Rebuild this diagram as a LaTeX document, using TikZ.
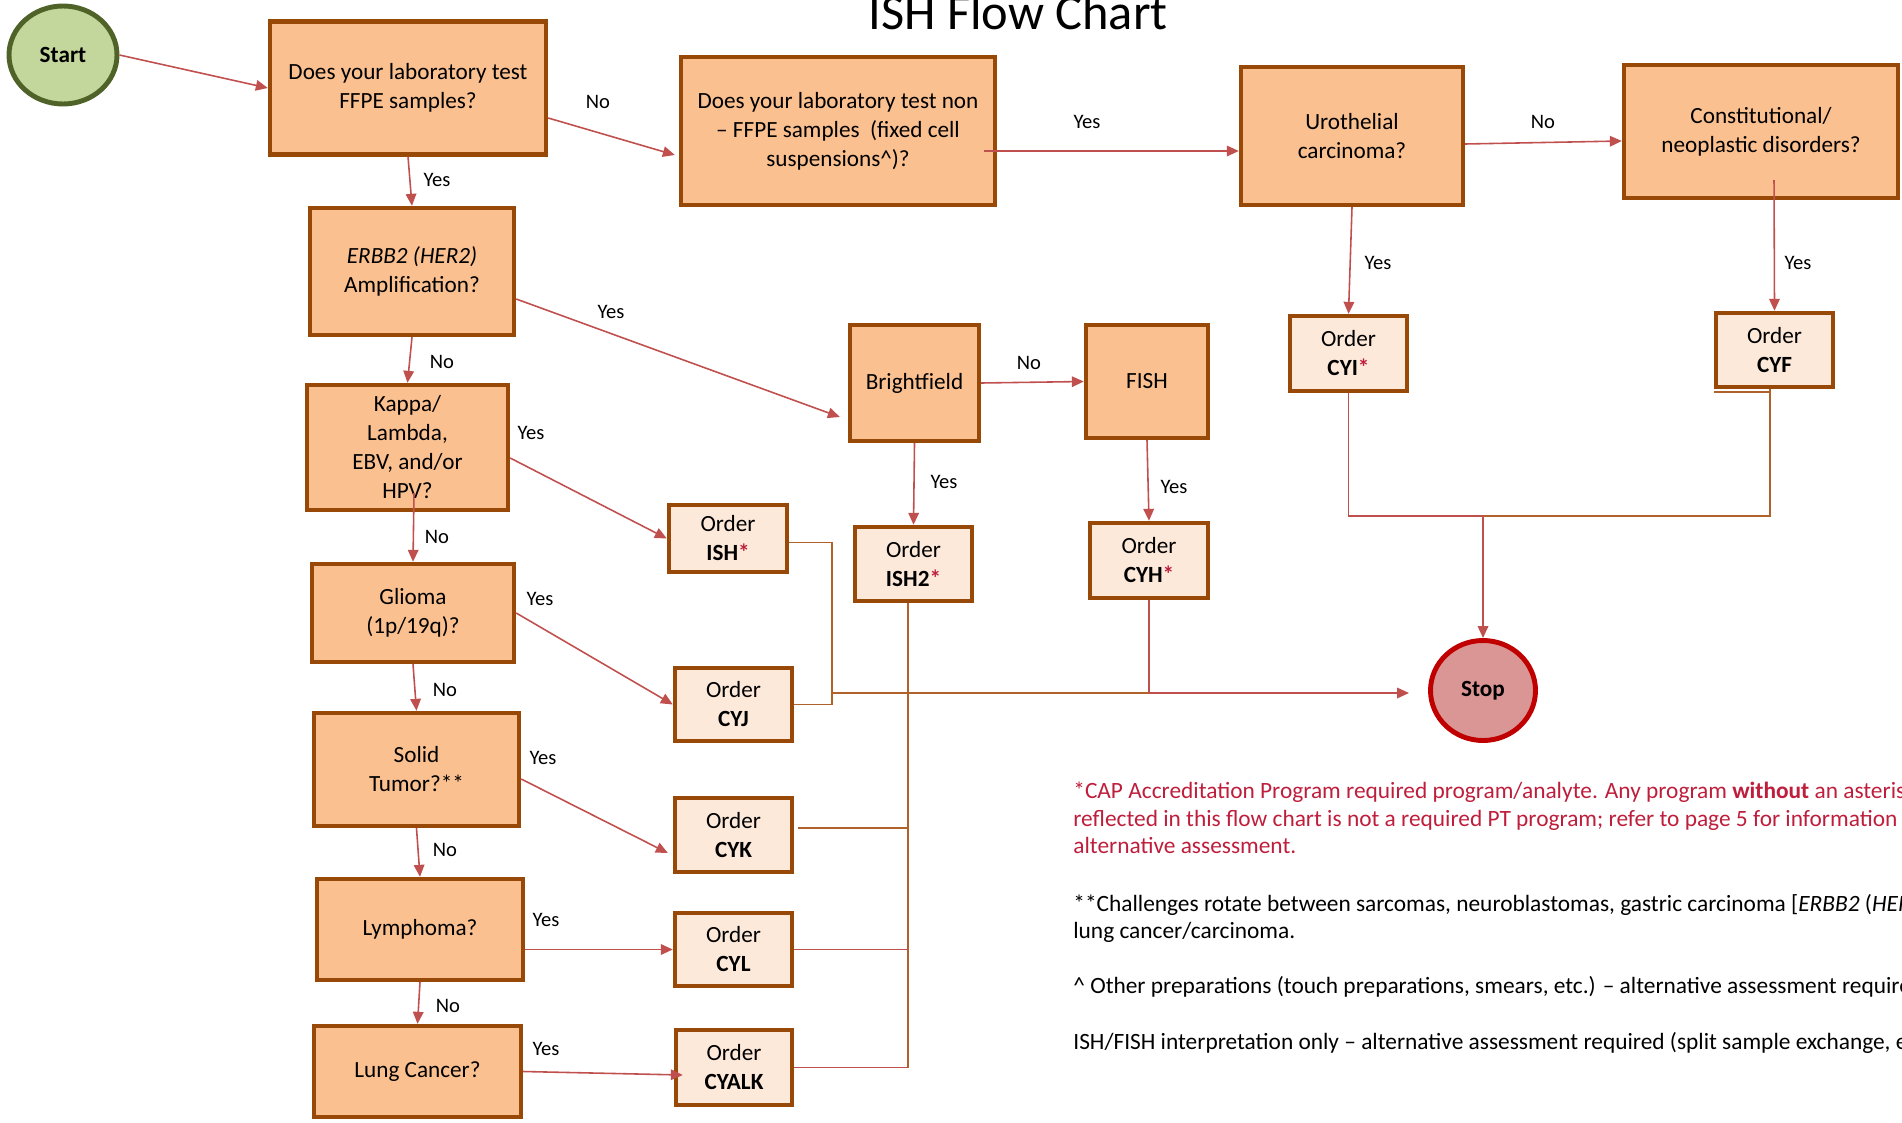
\documentclass[tikz,border=0pt]{standalone}
\usepackage{fontspec}
\setmainfont{Carlito}
\usetikzlibrary{arrows.meta,calc,shapes.geometric}

\definecolor{qfill}{HTML}{FAC090}
\definecolor{ofill}{HTML}{FDE9D9}
\definecolor{boxline}{HTML}{984807}
\definecolor{connred}{HTML}{C0504D}
\definecolor{connbrown}{HTML}{B0622A}
\definecolor{startfill}{HTML}{C3D69B}
\definecolor{startline}{HTML}{4F6228}
\definecolor{stopfill}{HTML}{D99694}
\definecolor{stopline}{HTML}{C00000}
\definecolor{ishred}{HTML}{BE1E3C}

\newcommand{\reqmark}{\textcolor{ishred}{\textbf{*}}}

\begin{document}
\begin{tikzpicture}[x=0.02cm,y=-0.02cm,
	>={Triangle[length=6.8pt,width=6pt]},
	sz/.style 2 args={minimum width=#1*0.02cm,minimum height=#2*0.02cm},
	question/.style={draw=boxline,fill=qfill,line width=2.5pt,align=center,inner sep=2pt,
		font=\fontsize{13.2pt}{16.5pt}\selectfont},
	order/.style={question,fill=ofill},
	terminal/.style={ellipse,line width=2.8pt,inner sep=0pt,
		font=\fontsize{13.2pt}{16.5pt}\selectfont\bfseries},
	conn/.style={connred,line width=0.9pt},
	brownline/.style={connbrown,line width=0.9pt},
	lbl/.style={font=\fontsize{11.7pt}{14pt}\selectfont,inner sep=0pt},
	note/.style={anchor=base west,inner sep=0pt,font=\fontsize{13.3pt}{16pt}\selectfont}]
	
	\useasboundingbox (0,0) rectangle (1902,1122);
	\clip (0,0) rectangle (1902,1122);
	
	% ======================================================
	% Title and terminals
	% ======================================================
	\node[anchor=base,inner sep=0pt,font=\fontsize{28.7pt}{34pt}\selectfont] (title) at (1018,30) {ISH Flow Chart};
	
	\node[terminal,fill=startfill,draw=startline,sz={108}{98}] (start) at (63,55) {Start};
	\node[terminal,fill=stopfill,draw=stopline,sz={105}{100}] (stop) at (1483,690.5) {Stop};
	
	% ======================================================
	% Questions
	% ======================================================
	\node[question,sz={276}{133}] (ffpe) at (408,88) {Does your laboratory test\\FFPE samples?};
	\node[question,sz={314}{148}] (nonffpe) at (838,131) {Does your laboratory test non\\-- FFPE samples~ (fixed cell\\suspensions\textasciicircum)?};
	\node[question,sz={222}{138}] (uro) at (1352,136) {Urothelial\\carcinoma?};
	\node[question,sz={274}{133}] (const) at (1761,131.5) {Constitutional/\\neoplastic disorders?};
	\node[question,sz={204}{127}] (erbb) at (412,271.5) {\textit{ERBB2 (HER2)}\\Amplification?};
	\node[question,sz={201}{125}] (kappa) at (407.5,447.5) {Kappa/\\Lambda,\\EBV, and/or\\HPV?};
	\node[question,sz={202}{98}] (glioma) at (413,613) {Glioma\\(1p/19q)?};
	\node[question,sz={205}{113}] (solid) at (416.5,769.5) {Solid\\Tumor?**};
	\node[question,sz={206}{101}] (lymph) at (420,929.5) {Lymphoma?};
	\node[question,sz={207}{91}] (lung) at (417.5,1071.5) {Lung Cancer?};
	\node[question,sz={129}{116}] (bright) at (914.5,383) {Brightfield};
	\node[question,sz={122}{113}] (fish) at (1147,381.5) {FISH};
	
	% ======================================================
	% Orders
	% ======================================================
	\node[order,sz={117}{75}] (cyi) at (1348.5,353.5) {Order\\\textbf{CYI}\reqmark};
	\node[order,sz={117}{74}] (cyf) at (1774.5,350) {Order\\\textbf{CYF}};
	\node[order,sz={118}{67}] (ish) at (728,538.5) {Order\\\textbf{ISH}\reqmark};
	\node[order,sz={117}{73}] (cyj) at (733.5,704.5) {Order\\\textbf{CYJ}};
	\node[order,sz={117}{74}] (cyk) at (733.5,835) {Order\\\textbf{CYK}};
	\node[order,sz={117}{73}] (cyl) at (733.5,949.5) {Order\\\textbf{CYL}};
	\node[order,sz={116}{75}] (cyalk) at (734,1067.5) {Order\\\textbf{CYALK}};
	\node[order,sz={117}{74}] (ish2) at (913.5,564) {Order\\\textbf{ISH2}\reqmark};
	\node[order,sz={118}{75}] (cyh) at (1149,560.5) {Order\\\textbf{CYH}\reqmark};
	
	% ======================================================
	% Yes / No connectors
	% ======================================================
	\draw[conn,->] (start.east) -- (ffpe.west);
	\draw[conn,->] ($(ffpe.east)+(0,30)$) -- ($(nonffpe.west)+(-4,24)$);
	\draw[conn,->] (ffpe.south) -- (erbb.north);
	\draw[conn,->] ($(nonffpe.east)+(-13,20)$) -- ($(uro.west)+(0,15)$);
	\draw[conn,->] ($(uro.east)+(0,8)$) -- ($(const.west)+(0,9.5)$);
	\draw[conn,->] (uro.south) -- (cyi.north);
	\draw[conn,->] ($(const.south)+(13,-20)$) -- (cyf.north);
	\draw[conn,->] ($(erbb.east)+(0,27.5)$) -- ($(bright.west)+(-8,34)$);
	\draw[conn,->] (erbb.south) -- (kappa.north);
	\draw[conn,->] (bright.east) -- (fish.west);
	\draw[conn,->] ($(kappa.east)+(0,10.5)$) -- (ish.west);
	\draw[conn,->] (bright.south) -- (ish2.north);
	\draw[conn,->] (fish.south) -- (cyh.north);
	\draw[conn,->] ($(kappa.south)+(6.5,-19)$) -- (glioma.north);
	\draw[conn,->] (glioma.east) -- (cyj.west);
	\draw[conn,->] (glioma.south) -- (solid.north);
	\draw[conn,->] ($(solid.east)+(0,9.5)$) -- ($(cyk.west)+(-5,18)$);
	\draw[conn,->] (solid.south) -- (lymph.north);
	\draw[conn,->] ($(lymph.east)+(0,20)$) -- (cyl.west);
	\draw[conn,->] (lymph.south) -- (lung.north);
	\draw[conn,->] (lung.east) -- ($(cyalk.west)+(9,7.5)$);
	
	% Labels
	\node[lbl] (ffpeNo) at (598,102) {No};
	\node[lbl] (ffpeYes) at (437,180) {Yes};
	\node[lbl] (nonffpeYes) at (1087,122) {Yes};
	\node[lbl] (uroNo) at (1543,122) {No};
	\node[lbl] (uroYes) at (1378,263) {Yes};
	\node[lbl] (constYes) at (1798,263) {Yes};
	\node[lbl] (erbbYes) at (611,312) {Yes};
	\node[lbl] (erbbNo) at (442,362) {No};
	\node[lbl] (brightNo) at (1029,363) {No};
	\node[lbl] (kappaYes) at (531,433) {Yes};
	\node[lbl] (brightYes) at (944,482) {Yes};
	\node[lbl] (fishYes) at (1174,487) {Yes};
	\node[lbl] (kappaNo) at (437,537) {No};
	\node[lbl] (gliomaYes) at (540,599) {Yes};
	\node[lbl] (gliomaNo) at (445,690) {No};
	\node[lbl] (solidYes) at (543,758) {Yes};
	\node[lbl] (solidNo) at (445,850) {No};
	\node[lbl] (lymphYes) at (546,920) {Yes};
	\node[lbl] (lymphNo) at (448,1006) {No};
	\node[lbl] (lungYes) at (546,1049) {Yes};
	
	% ======================================================
	% Lines collecting the orders into Stop
	% ======================================================
	\coordinate (jl) at (832,693);
	\coordinate (jh) at (cyh.south |- jl);
	\draw[brownline] ($(ish.east)+(0,4)$) -| (jl) |- (cyj.east);
	\draw[brownline] (jl) -- (jh);
	\draw[conn] (cyh.south) -- (jh);
	\draw[conn,->] (jh) -- ($(stop.west)+(-19,2.5)$);
	
	\coordinate (v2) at ($(ish2.south)+(-5.5,0)$);
	\coordinate (ck) at ($(cyk.east)+(4,-7)$);
	\draw[brownline] (v2) -- (v2 |- cyalk.east);
	\draw[brownline] (ck) -- (ck -| v2);
	\draw[conn] (cyl.east) -- (cyl.east -| v2);
	\draw[conn] (cyalk.east) -- (cyalk.east -| v2);
	
	\coordinate (jr) at (1483,516);
	\coordinate (cfb) at ($(cyf.south)+(-4.5,0)$);
	\draw[conn] (cyi.south) |- (jr);
	\draw[brownline] (jr) -| (cfb);
	\draw[brownline] ($(cyf.south west)+(0,3)$) -- ($(cfb)+(0,3)$);
	\draw[conn,->] (jr) -- (stop.north);
	
	% ======================================================
	% Footnotes
	% ======================================================
	\node[note,text=ishred] (fnA1) at (1073,798) {*CAP Accreditation Program required program/analyte. Any program \textbf{without} an asterisk};
	\node[note,text=ishred] (fnA2) at (1073,826) {reflected in this flow chart is not a required PT program; refer to page 5 for information};
	\node[note,text=ishred] (fnA3) at (1073,853) {alternative assessment.};
	\node[note] (fnB1) at (1073,911) {**Challenges rotate between sarcomas, neuroblastomas, gastric carcinoma [\textit{ERBB2} (\textit{HER2})]};
	\node[note] (fnB2) at (1073,938) {lung cancer/carcinoma.};
	\node[note] (fnC) at (1073,993) {\textasciicircum{} Other preparations (touch preparations, smears, etc.) -- alternative assessment required};
	\node[note] (fnD) at (1073,1049) {ISH/FISH interpretation only -- alternative assessment required (split sample exchange, etc.)};
	
\end{tikzpicture}
\end{document}
